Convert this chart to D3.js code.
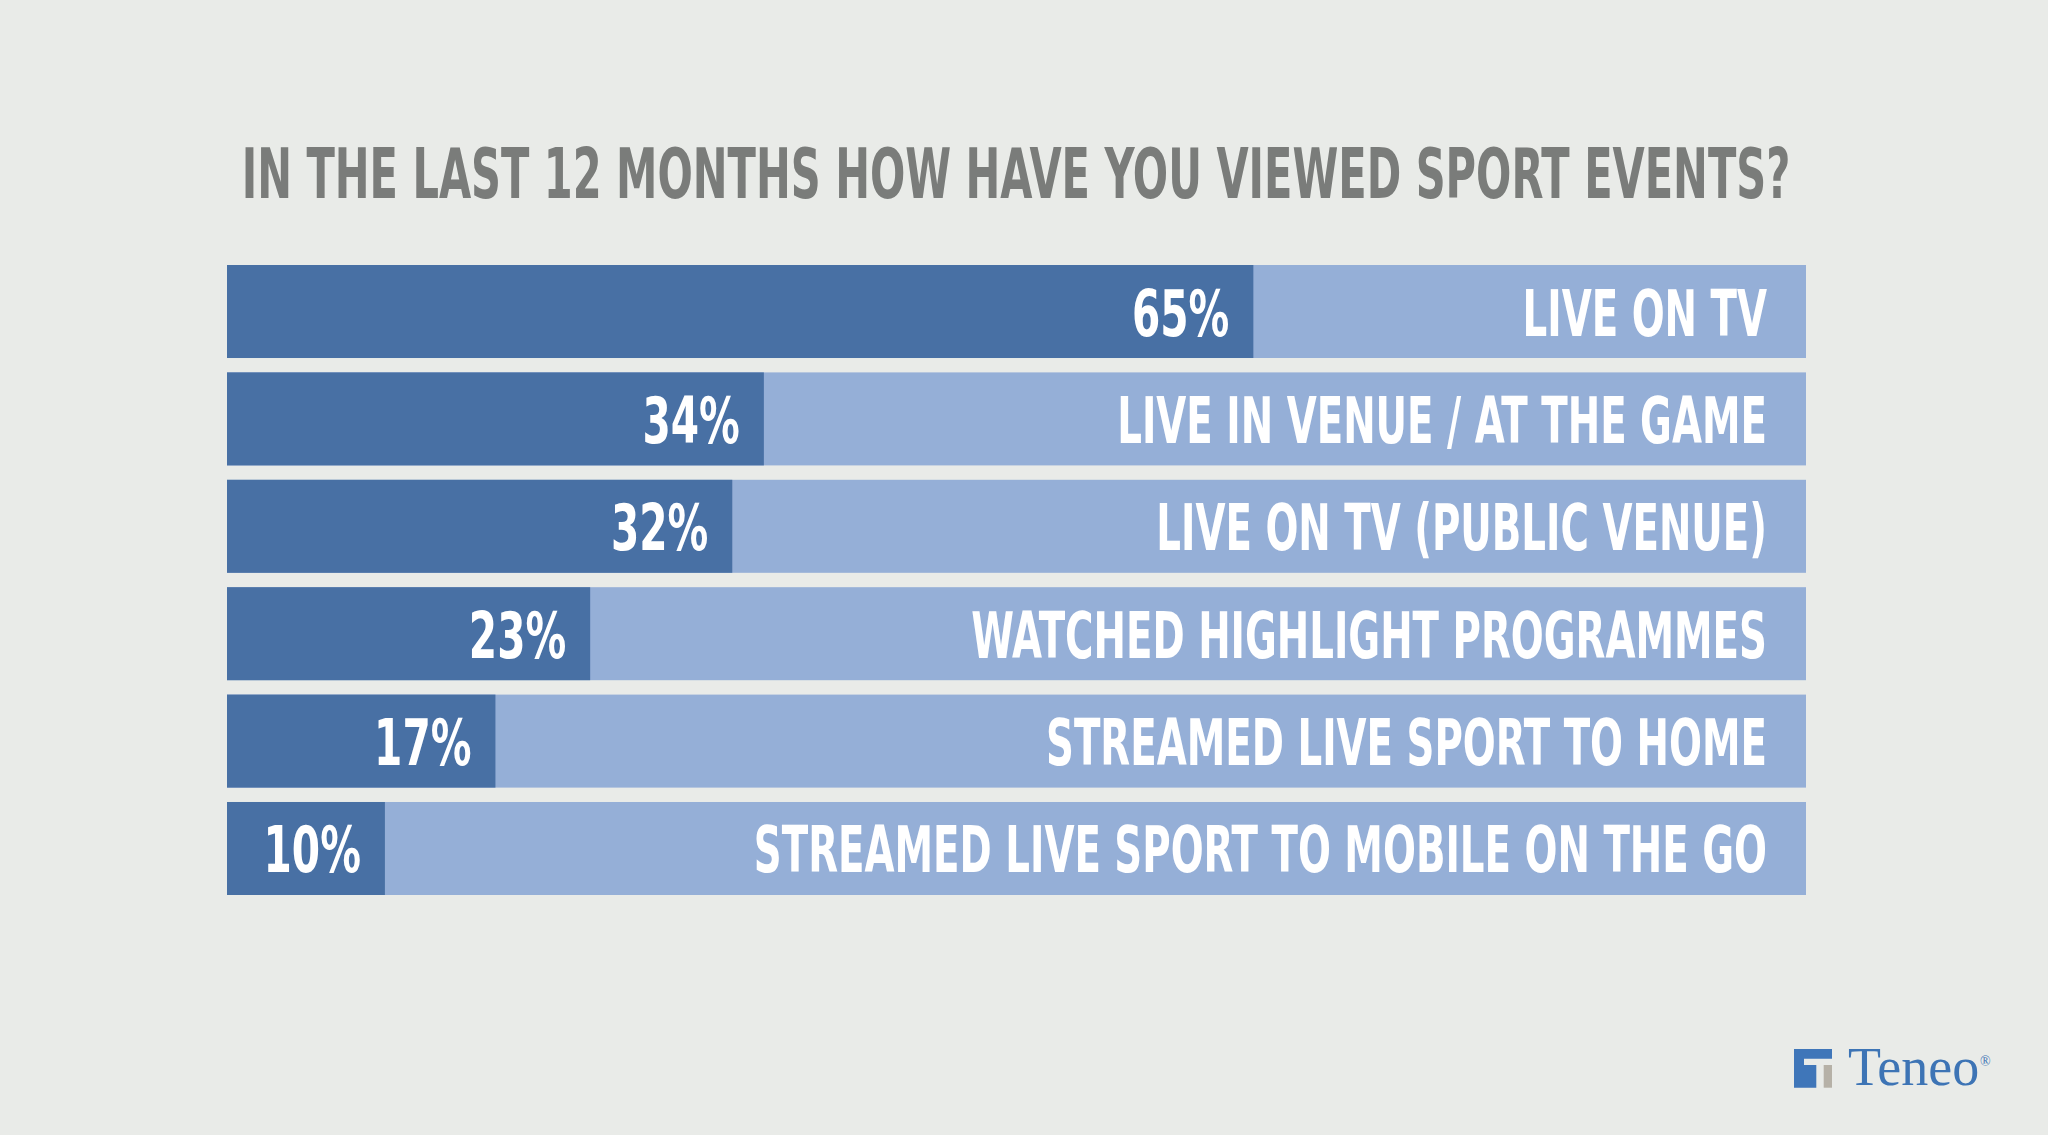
<html>
<head>
    <script src="https://d3js.org/d3.v7.min.js"></script>
    <style>
        body {
            margin: 0;
            background: #e9ebe8;
        }
        svg text {
            font-family: "Liberation Sans Narrow", "DejaVu Sans Condensed", "Roboto Condensed", sans-serif;
            font-weight: bold;
        }
    </style>
</head>
<body>
    <svg id="chart" width="2048" height="1135"></svg>
    <script>
        const categories = [
            "LIVE ON TV",
            "LIVE IN VENUE / AT THE GAME",
            "LIVE ON TV (PUBLIC VENUE)",
            "WATCHED HIGHLIGHT PROGRAMMES",
            "STREAMED LIVE SPORT TO HOME",
            "STREAMED LIVE SPORT TO MOBILE ON THE GO"
        ];
        const values = [65, 34, 32, 23, 17, 10];
        const title = "IN THE LAST 12 MONTHS HOW HAVE YOU VIEWED SPORT EVENTS?";

        const svg = d3.select("svg#chart");
        const width = +svg.attr("width");
        const height = +svg.attr("height");
        const margin = { top: 265, right: 242, bottom: 240, left: 227 };

        svg.append("rect")
            .attr("width", width)
            .attr("height", height)
            .attr("fill", "#e9ebe8");

        const xScale = d3.scaleLinear().domain([0, 100]).range([margin.left, width - margin.right]);
        const yScale = d3.scaleBand().domain(categories)
            .range([margin.top, height - margin.bottom])
            .paddingInner(0.134);

        // title, squeezed horizontally to mimic the condensed face
        const titleText = svg.append("text")
            .attr("text-anchor", "middle")
            .attr("fill", "#7a7c7a")
            .style("font-size", "70px")
            .text(title);
        const natural = titleText.node().getComputedTextLength();
        const squeeze = 1549 / natural;
        titleText.attr("transform", `translate(1016,198) scale(${squeeze},1)`);

        const rows = svg.append("g").selectAll("g")
            .data(categories)
            .join("g")
            .attr("transform", d => `translate(0,${yScale(d)})`);

        // full-width light bar
        rows.append("rect")
            .attr("x", xScale(0))
            .attr("width", xScale(100) - xScale(0))
            .attr("height", yScale.bandwidth())
            .attr("fill", "#95afd7");

        // value bar
        rows.append("rect")
            .attr("x", xScale(0))
            .attr("width", (d, i) => xScale(values[i]) - xScale(0))
            .attr("height", yScale.bandwidth())
            .attr("fill", "#4870a4");

        const baseline = yScale.bandwidth() / 2 + 24;

        rows.append("text")
            .attr("transform", (d, i) =>
                `translate(${xScale(values[i]) - 24},${baseline}) scale(${squeeze * 1.07},1)`)
            .attr("text-anchor", "end")
            .attr("fill", "#ffffff")
            .style("font-size", "64px")
            .text((d, i) => values[i] + "%");

        rows.append("text")
            .attr("transform", `translate(${xScale(100) - 39},${baseline}) scale(${squeeze * 1.02},1)`)
            .attr("text-anchor", "end")
            .attr("fill", "#ffffff")
            .style("font-size", "64px")
            .text(d => d);

        // Teneo logo
        const logo = svg.append("g").attr("transform", "translate(1794,1049)");
        logo.append("path")
            .attr("d", "M0,0 H38 V9.7 H10 V38.7 H0 Z M10,16 H22.3 V38.7 H10 Z")
            .attr("fill", "#3f76b9");
        logo.append("rect")
            .attr("x", 29.7).attr("y", 16)
            .attr("width", 8.3).attr("height", 22.7)
            .attr("fill", "#b6b1a7");
        svg.append("text")
            .attr("x", 1848)
            .attr("y", 1085)
            .attr("fill", "#3d74b5")
            .style("font-family", "'Liberation Serif', 'DejaVu Serif', serif")
            .style("font-weight", "normal")
            .style("font-size", "54px")
            .text("Teneo");
        svg.append("text")
            .attr("x", 1980)
            .attr("y", 1066)
            .attr("fill", "#3d74b5")
            .style("font-family", "'Liberation Serif', 'DejaVu Serif', serif")
            .style("font-weight", "normal")
            .style("font-size", "14px")
            .text("®");
    </script>
</body>
</html>
